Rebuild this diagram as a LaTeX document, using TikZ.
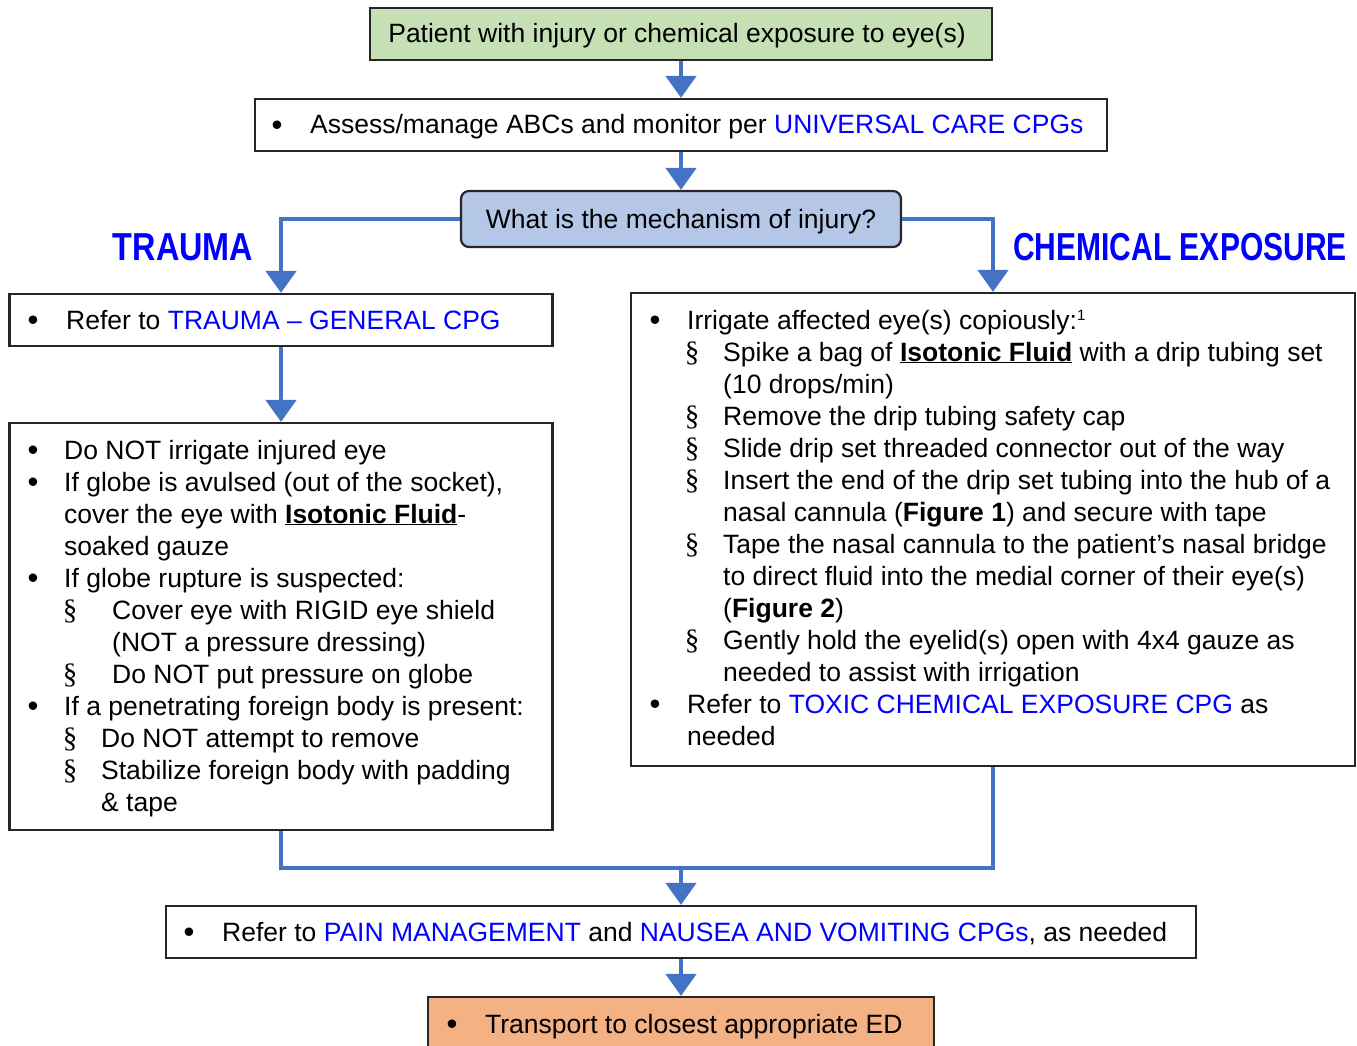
\documentclass[tikz,border=0pt]{standalone}
\usepackage{fontspec}
\setmainfont{Liberation Sans}
\newfontfamily\markfont{Liberation Serif}
\usetikzlibrary{arrows.meta}

\definecolor{flowblue}{HTML}{4472C4}
\definecolor{linkblue}{HTML}{0000FF}
\definecolor{startgreen}{HTML}{C5E0B4}
\definecolor{askblue}{HTML}{B4C7E7}
\definecolor{endorange}{HTML}{F4B183}

\newcommand{\lnk}[1]{\textcolor{linkblue}{#1}}
\newcommand{\ulb}[1]{\underline{\textbf{#1}}}
\newcommand{\supone}{\raisebox{9pt}{\fontsize{15}{15}\selectfont 1}}

\tikzset{
  panel/.style={draw=black!85, line width=2.2pt, inner sep=0pt},
  txt/.style={anchor=base west, inner sep=0pt, font=\fontsize{26.5}{32}\selectfont},
  ctxt/.style={anchor=base, inner sep=0pt, font=\fontsize{26.5}{32}\selectfont},
  flow/.style={draw=flowblue, line width=4.5pt, line join=miter},
  arr/.style={flow, -{Triangle[width=30pt,length=22pt]}},
  branch/.style={anchor=base, inner sep=0pt, text=linkblue,
    font=\fontsize{39}{40}\selectfont\bfseries}
}

% one text line, a bullet and a section mark
\newcommand{\tl}[4]{\node[txt] (#1) at (#2,#3) {#4};}
\newcommand{\bl}[3]{\node[ctxt] (#1) at (#2,#3) {\raisebox{-1.5pt}{\fontsize{31}{32}\selectfont •}};}
\newcommand{\sm}[3]{\node[ctxt] (#1) at (#2,#3) {\markfont\fontsize{29}{32}\selectfont §};}

\begin{document}
\begin{tikzpicture}[x=1pt, y=-1pt]
\clip (0,0) rectangle (1357,1046);

% ---- boxes
\node[panel, fill=startgreen, minimum width=622pt, minimum height=52pt] (start) at (681,34) {};
\node[panel, fill=white, minimum width=852pt, minimum height=52pt] (assess) at (681,125) {};
\node[panel, fill=askblue, rounded corners=8pt, minimum width=440pt, minimum height=56pt] (mech) at (681,219) {};
\node[panel, fill=white, minimum width=543pt, minimum height=52pt] (refer) at (281,320) {};
\node[panel, fill=white, minimum width=543pt, minimum height=407pt] (trauma) at (281,626.5) {};
\node[panel, fill=white, minimum width=724pt, minimum height=473pt] (chem) at (993,529.5) {};
\node[panel, fill=white, minimum width=1030pt, minimum height=52pt] (pain) at (681,932) {};
\node[panel, fill=endorange, minimum width=506pt, minimum height=70pt] (transport) at (681,1032) {};

% ---- connectors
\draw[arr] (start.south) -- (assess.north);
\draw[arr] (assess.south) -- (mech.north);
\draw[arr] (mech.west) -| (refer.north);
\draw[arr] (mech.east) -| (chem.north);
\draw[arr] (refer.south) -- (trauma.north);
\coordinate (join) at (681,868);
\draw[flow] (trauma.south) -- (trauma.south |- join) -- (chem.south |- join) -- (chem.south);
\draw[arr] (join) -- (pain.north);
\draw[arr] (pain.south) -- (transport.north);

% ---- branch labels
\node[branch] (lbtrauma) at (183,260) {\scalebox{0.83}[1]{TRAUMA}};
\node[branch] (lbchem) at (1180,260) {\scalebox{0.77}[1]{CHEMICAL EXPOSURE}};

% ---- single-line boxes
\node[ctxt] (tstart) at (677,43) {Patient with injury or chemical exposure to eye(s)};
\bl{bassess}{277}{134}
\tl{tassess}{310}{134}{Assess/manage ABCs and monitor per \lnk{UNIVERSAL CARE CPGs}}
\node[ctxt] (tmech) at (681,228) {What is the mechanism of injury?};
\bl{brefer}{33}{329}
\tl{trefer}{66}{329}{Refer to \lnk{TRAUMA – GENERAL CPG}}
\bl{bpain}{189}{941}
\tl{tpain}{222}{941}{Refer to \lnk{PAIN MANAGEMENT} and \lnk{NAUSEA AND VOMITING CPGs}, as needed}
\bl{btrans}{452}{1033}
\tl{ttrans}{485}{1033}{Transport to closest appropriate ED}

% ---- trauma list
\bl{ba1}{33}{459} \tl{ta1}{64}{459}{Do NOT irrigate injured eye}
\bl{ba2}{33}{491} \tl{ta2}{64}{491}{If globe is avulsed (out of the socket),}
\tl{ta3}{64}{523}{cover the eye with \ulb{Isotonic Fluid}-}
\tl{ta4}{64}{555}{soaked gauze}
\bl{ba5}{33}{587} \tl{ta5}{64}{587}{If globe rupture is suspected:}
\sm{sa6}{70}{619} \tl{ta6}{112}{619}{Cover eye with RIGID eye shield}
\tl{ta7}{112}{651}{(NOT a pressure dressing)}
\sm{sa8}{70}{683} \tl{ta8}{112}{683}{Do NOT put pressure on globe}
\bl{ba9}{33}{715} \tl{ta9}{64}{715}{If a penetrating foreign body is present:}
\sm{sa10}{70}{747} \tl{ta10}{101}{747}{Do NOT attempt to remove}
\sm{sa11}{70}{779} \tl{ta11}{101}{779}{Stabilize foreign body with padding}
\tl{ta12}{101}{811}{\& tape}

% ---- chemical list
\bl{bc1}{655}{329} \tl{tc1}{687}{329}{Irrigate affected eye(s) copiously:\supone}
\sm{sc2}{692}{361} \tl{tc2}{723}{361}{Spike a bag of \ulb{Isotonic Fluid} with a drip tubing set}
\tl{tc3}{723}{393}{(10 drops/min)}
\sm{sc4}{692}{425} \tl{tc4}{723}{425}{Remove the drip tubing safety cap}
\sm{sc5}{692}{457} \tl{tc5}{723}{457}{Slide drip set threaded connector out of the way}
\sm{sc6}{692}{489} \tl{tc6}{723}{489}{Insert the end of the drip set tubing into the hub of a}
\tl{tc7}{723}{521}{nasal cannula (\textbf{Figure 1}) and secure with tape}
\sm{sc8}{692}{553} \tl{tc8}{723}{553}{Tape the nasal cannula to the patient’s nasal bridge}
\tl{tc9}{723}{585}{to direct fluid into the medial corner of their eye(s)}
\tl{tc10}{723}{617}{(\textbf{Figure 2})}
\sm{sc11}{692}{649} \tl{tc11}{723}{649}{Gently hold the eyelid(s) open with 4x4 gauze as}
\tl{tc12}{723}{681}{needed to assist with irrigation}
\bl{bc13}{655}{713} \tl{tc13}{687}{713}{Refer to \lnk{TOXIC CHEMICAL EXPOSURE CPG} as}
\tl{tc14}{687}{745}{needed}
\end{tikzpicture}
\end{document}
